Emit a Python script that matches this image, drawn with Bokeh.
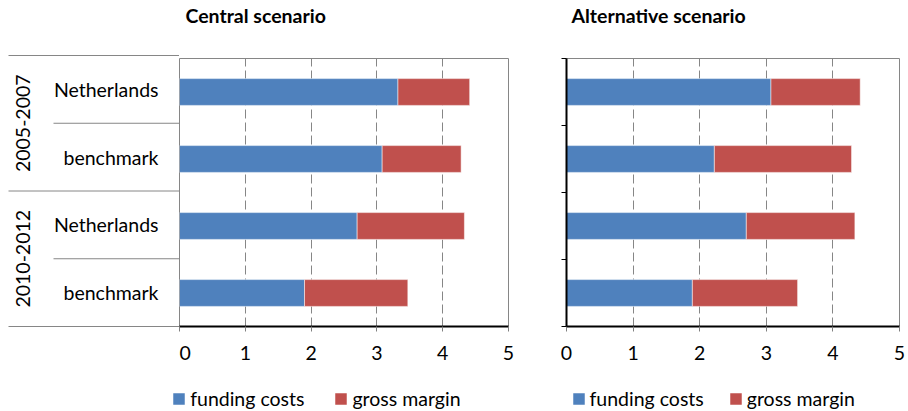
import math
from bokeh.plotting import figure
from bokeh.models import ColumnDataSource, Range1d, Legend, LegendItem, FixedTicker, Title
from bokeh.layouts import row, column
from bokeh.embed import file_html
from bokeh.resources import INLINE
from bokeh.core.properties import value

# ---------------- data ----------------
periods = ["2005-2007", "2010-2012"]
countries = ["Netherlands", "benchmark"]
central_funding = [3.32, 3.08, 2.70, 1.90]
central_margin = [1.09, 1.20, 1.63, 1.57]
alt_funding = [3.07, 2.22, 2.70, 1.89]
alt_margin = [1.34, 2.06, 1.63, 1.58]
x_ticks = [0, 1, 2, 3, 4, 5]
series_names = ["funding costs", "gross margin"]
titles = ["Central scenario", "Alternative scenario"]

# ---------------- style ----------------
BLUE = "#4F81BD"
RED = "#C0504D"
GRID = "#868686"
FONT = "Lato"
FS = "19.5px"
TOP = 55
FRAME_H = 271
BOTTOM = 45
H = TOP + FRAME_H + BOTTOM
LEG_H = 39
TOTAL_W = 907

n = len(periods) * len(countries)
ypos = [n - i - 0.5 for i in range(n)]
sub_labels = [c for _ in periods for c in countries]

# ---------------- category label panel ----------------
LAB_W = 179
pad = 10
unit = FRAME_H / n
lab = figure(width=LAB_W, height=H, x_range=Range1d(0, LAB_W),
             y_range=Range1d(-pad / unit, n + pad / unit),
             x_axis_location=None, y_axis_location=None,
             output_backend="svg", toolbar_location=None,
             min_border_left=0, min_border_right=0,
             min_border_top=TOP - pad, min_border_bottom=BOTTOM - pad)
if "frame_align" in lab.properties():
    lab.frame_align = False
lab.grid.visible = False
lab.outline_line_color = None
sep_y = [n - k for k in range(n + 1)]
sep_x0 = [8 if k % len(countries) == 0 else 53 for k in range(n + 1)]
lab.segment(x0=sep_x0, y0=sep_y, x1=[LAB_W] * len(sep_y), y1=sep_y,
            line_color=GRID, line_width=1)
lab.text(x=[158] * n, y=ypos, text=sub_labels, text_align="right",
         text_baseline="middle", text_font=value(FONT), text_font_size=FS,
         text_color="black")
grp_y = [n - (g * len(countries) + len(countries) / 2) for g in range(len(periods))]
lab.text(x=[22] * len(periods), y=grp_y, text=periods, angle=math.pi / 2,
         text_align="center", text_baseline="middle", text_font=value(FONT),
         text_font_size=FS, text_color="black")


def add_bars(p, funding, margin, visible=True):
    src = ColumnDataSource(dict(y=ypos, funding=funding, margin=margin))
    rs = p.hbar_stack(["funding", "margin"], y="y", height=0.4, source=src,
                      color=[BLUE, RED], line_color="white", line_alpha=0.5, line_width=1)
    for r in rs:
        r.visible = visible
    return rs


def make_chart(title, funding, margin, width, left, right, with_yaxis, title_offset):
    p = figure(width=width, height=H, x_range=Range1d(0, 5), y_range=Range1d(0, n),
               y_axis_location="left" if with_yaxis else None,
               output_backend="svg", toolbar_location=None,
               min_border_left=left, min_border_right=right,
               min_border_top=TOP, min_border_bottom=BOTTOM)
    # spacer between frame and title
    p.add_layout(Title(text=" ", text_font_size="1px", standoff=28), "above")
    p.title.text = title
    p.title.align = "left"
    p.title.offset = title_offset
    p.title.text_font = FONT
    p.title.text_font_size = FS
    p.title.text_font_style = "bold"
    p.title.text_color = "black"
    p.title.standoff = 2
    p.outline_line_color = GRID
    p.outline_line_width = 1
    p.ygrid.visible = False
    p.xgrid.ticker = FixedTicker(ticks=x_ticks[1:-1])
    p.xgrid.grid_line_color = GRID
    p.xgrid.grid_line_dash = "9 4"
    p.xgrid.grid_line_width = 1

    xa = p.xaxis[0]
    xa.ticker = FixedTicker(ticks=x_ticks)
    xa.axis_line_color = "black"
    xa.axis_line_width = 2
    xa.major_tick_out = 5
    xa.major_tick_in = 0
    xa.major_tick_line_color = "#808080"
    xa.minor_tick_line_color = None
    xa.major_label_text_font = FONT
    xa.major_label_text_font_size = FS
    xa.major_label_text_color = "black"
    xa.major_label_standoff = 14

    if with_yaxis:
        ya = p.yaxis[0]
        ya.ticker = FixedTicker(ticks=list(range(n + 1)))
        ya.major_label_overrides = {i: " " for i in range(n + 1)}
        ya.axis_line_color = "black"
        ya.axis_line_width = 2
        ya.major_tick_out = 5
        ya.major_tick_in = 0
        ya.major_tick_line_color = "black"
        ya.minor_tick_line_color = None

    add_bars(p, funding, margin)
    return p


pc = make_chart(titles[0], central_funding, central_margin, 358, 0, 29, False, 6)
pa = make_chart(titles[1], alt_funding, alt_margin, 370, 29, 8, True, 5)

# ---------------- legend strip ----------------
leg = figure(width=TOTAL_W, height=LEG_H, x_range=Range1d(0, 5), y_range=Range1d(-10, -9),
             x_axis_location=None, y_axis_location=None,
             output_backend="svg", toolbar_location=None,
             min_border_left=0, min_border_right=0, min_border_top=0, min_border_bottom=0)
leg.grid.visible = False
leg.outline_line_color = None
for funding, margin, lx, sp in [(central_funding, central_margin, 171.2, 29),
                                (alt_funding, alt_margin, 570.5, 24)]:
    rs = add_bars(leg, funding, margin, visible=False)
    legend = Legend(items=[LegendItem(label=series_names[i], renderers=[rs[i]]) for i in range(2)],
                    orientation="horizontal", location=(lx, 0),
                    glyph_width=15, glyph_height=15, label_standoff=4, spacing=sp,
                    padding=0, margin=0, border_line_color=None, background_fill_alpha=0,
                    label_text_font=FONT, label_text_font_size=FS, label_text_color="black")
    leg.add_layout(legend, "center")

layout = column(row(lab, pc, pa), leg)
open("out.html", "w").write(file_html(layout, INLINE))
